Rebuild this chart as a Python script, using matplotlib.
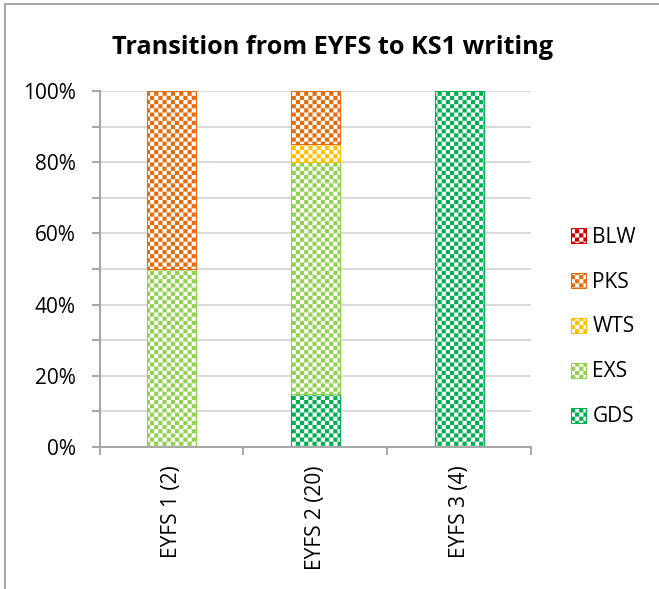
import warnings

import numpy as np
import matplotlib
matplotlib.use('Agg')
import matplotlib.pyplot as plt
import matplotlib.hatch as mhatch
from matplotlib.path import Path
from matplotlib.patches import Patch
from matplotlib.lines import Line2D
from matplotlib.ticker import MultipleLocator, PercentFormatter

warnings.filterwarnings('ignore')

# data (percent of pupils)
groups = ['EYFS 1 (2)', 'EYFS 2 (20)', 'EYFS 3 (4)']
series = ['GDS', 'EXS', 'WTS', 'PKS', 'BLW']
gds = [0, 15, 100]
exs = [50, 65, 0]
wts = [0, 5, 0]
pks = [50, 15, 0]
blw = [0, 0, 0]
colours = ['#00B050', '#92D050', '#FFC000', '#E46C0A', '#CC0000']


class CheckerHatch(mhatch.HatchPatternBase):
    # checkerboard pattern, used with hatch='c'
    def __init__(self, hatch, density):
        self.cells = hatch.count('c') * density * 4
        self.num_vertices = self.cells * self.cells // 2 * 5

    def set_vertices_and_codes(self, vertices, codes):
        n = self.cells
        s = 1.0 / n
        k = 0
        for i in range(n):
            for j in range(n):
                if (i + j) % 2:
                    continue
                x0, y0 = i * s, j * s
                vertices[k:k + 5] = [(x0, y0), (x0 + s, y0), (x0 + s, y0 + s),
                                     (x0, y0 + s), (x0, y0)]
                codes[k:k + 5] = [Path.MOVETO, Path.LINETO, Path.LINETO,
                                  Path.LINETO, Path.CLOSEPOLY]
                k += 5


mhatch._hatch_types.append(CheckerHatch)

plt.rcParams['font.family'] = ['Open Sans', 'DejaVu Sans']
plt.rcParams['hatch.linewidth'] = 0.0

axis_grey = '#A6A6A6'

fig = plt.figure(figsize=(6.59, 5.89), dpi=100)
ax = fig.add_axes([99.5 / 659, 1 - 447 / 589, (531 - 99.5) / 659, (447 - 91) / 589])

x = np.arange(len(groups))
bottom = np.zeros(len(groups))
legend_patches = []
for name, vals, col in zip(series, [gds, exs, wts, pks, blw], colours):
    vals = np.array(vals, dtype=float)
    bars = ax.bar(x, vals, 0.34, bottom=bottom, facecolor='white',
                  edgecolor=col, hatch='c', linewidth=0.8)
    for p in bars:
        if p.get_height() == 0:
            p.set_linewidth(0)
    bottom += vals
    legend_patches.append(Patch(facecolor='white', edgecolor=col, hatch='c',
                                linewidth=0.8, label=name))

ax.set_xlim(-0.5, 2.5)
ax.set_ylim(0, 100)
ax.yaxis.set_major_locator(MultipleLocator(20))
ax.yaxis.set_minor_locator(MultipleLocator(10))
ax.yaxis.set_major_formatter(PercentFormatter(decimals=0))
ax.grid(axis='y', which='both', color='#D9D9D9', linewidth=1.4)
ax.set_axisbelow(True)
ax.tick_params(axis='y', which='both', direction='out', length=5.5, width=1.4,
               color=axis_grey, labelsize=15, pad=11.5)

ax.set_xticks(x)
ax.set_xticklabels(groups, rotation=90)
ax.set_xticks([-0.5, 0.5, 1.5, 2.5], minor=True)
ax.tick_params(axis='x', which='major', length=0, pad=13, labelsize=15)
ax.tick_params(axis='x', which='minor', direction='out', length=5.5, width=1.4,
               color=axis_grey)

for side in ['top', 'right']:
    ax.spines[side].set_visible(False)
for side in ['left', 'bottom']:
    ax.spines[side].set_color(axis_grey)
    ax.spines[side].set_linewidth(1.4)

fig.legend(handles=legend_patches[::-1], loc='center left',
           bbox_to_anchor=(571 / 659, 1 - 327 / 589), frameon=False, fontsize=15,
           handlelength=0.72, handleheight=0.72, handletextpad=0.3,
           labelspacing=1.15, borderpad=0, borderaxespad=0)

fig.text(332 / 659, 1 - 47 / 589, 'Transition from EYFS to KS1 writing',
         ha='center', va='center', fontsize=18.2, fontweight='bold')

# chart area border (left and top edges visible)
fig.add_artist(Line2D([4.5 / 659, 4.5 / 659], [0, 1 - 4 / 589],
                      transform=fig.transFigure, color=axis_grey, lw=1.4))
fig.add_artist(Line2D([4.5 / 659, 1], [1 - 4 / 589, 1 - 4 / 589],
                      transform=fig.transFigure, color=axis_grey, lw=1.4))

fig.savefig('out.png', dpi=100, facecolor='white')
